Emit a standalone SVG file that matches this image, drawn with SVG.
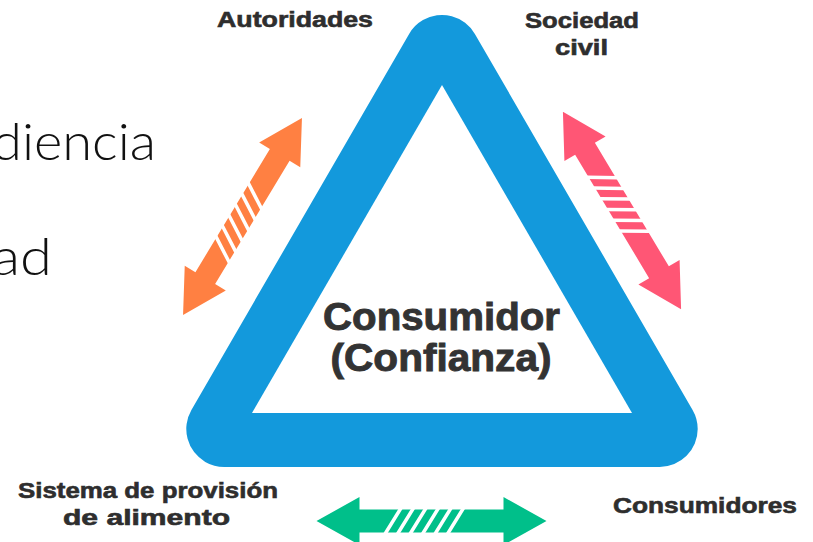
<svg xmlns="http://www.w3.org/2000/svg" width="813" height="542" viewBox="0 0 813 542">
<style>
.lbl{font-family:"Liberation Sans",Arial,sans-serif;font-weight:bold;fill:#2e2e2e;stroke:#2e2e2e;stroke-width:0.6;font-size:22px;text-anchor:middle}
.title{font-family:"Liberation Sans",Arial,sans-serif;font-weight:bold;fill:#333333;stroke:#333333;stroke-width:0.9;font-size:38px;text-anchor:middle}
.side{font-family:Lato,"Open Sans",sans-serif;font-weight:300;fill:#111111;font-size:51px;text-anchor:end}
.stripe{stroke:#ffffff;stroke-width:3.5;fill:none}
</style>
<defs>
<path id="arrowShape" d="M -115 0 L -72 -24 L -72 -11.5 L 72 -11.5 L 72 -24 L 115 0 L 72 24 L 72 11.5 L -72 11.5 L -72 24 Z"/>
<g id="stripes">
<path class="stripe" d="M 32 -13 L 16 13 M 19.5 -13 L 3.5 13 M 7 -13 L -9 13 M -5.5 -13 L -21.5 13 M -18 -13 L -34 13 M -30.5 -13 L -46.5 13"/>
</g>
</defs>
<g id="background-text">
<text class="side" x="156" y="160" textLength="164" lengthAdjust="spacingAndGlyphs">diencia</text>
<text class="side" x="52" y="275" textLength="60" lengthAdjust="spacingAndGlyphs">ad</text>
</g>
<g id="triangle">
<polygon points="442,53 224.3,429 659.7,429" fill="#1399DC" stroke="#1399DC" stroke-width="76" stroke-linejoin="round"/>
<polygon points="442,85 252,413 632,413" fill="#ffffff"/>
</g>
<g id="center-label">
<text class="title" x="441.5" y="330" textLength="237" lengthAdjust="spacingAndGlyphs">Consumidor</text>
<text class="title" x="441" y="371" textLength="221" lengthAdjust="spacingAndGlyphs">(Confianza)</text>
</g>
<g id="connectors">
<g id="arrow-autoridades" transform="translate(242.5 216.5) rotate(-58.87)">
<use href="#arrowShape" fill="#FF8042"/>
<use href="#stripes"/>
</g>
<g id="arrow-sociedad" transform="translate(622 210.5) rotate(59.08)">
<use href="#arrowShape" fill="#FF5675"/>
<use href="#stripes"/>
</g>
<g id="arrow-sistema" transform="translate(431.5 521)">
<use href="#arrowShape" fill="#00BF8A"/>
<use href="#stripes"/>
</g>
</g>
<g id="node-autoridades">
<text class="lbl" x="295" y="27" textLength="156" lengthAdjust="spacingAndGlyphs">Autoridades</text>
</g>
<g id="node-sociedad">
<text class="lbl" x="582" y="28" textLength="114" lengthAdjust="spacingAndGlyphs">Sociedad</text>
<text class="lbl" x="581.5" y="55" textLength="53" lengthAdjust="spacingAndGlyphs">civil</text>
</g>
<g id="node-sistema">
<text class="lbl" x="148" y="498" textLength="260" lengthAdjust="spacingAndGlyphs">Sistema de provisión</text>
<text class="lbl" x="146.5" y="525" textLength="167" lengthAdjust="spacingAndGlyphs">de alimento</text>
</g>
<g id="node-consumidores">
<text class="lbl" x="705" y="513" textLength="184" lengthAdjust="spacingAndGlyphs">Consumidores</text>
</g>
</svg>
